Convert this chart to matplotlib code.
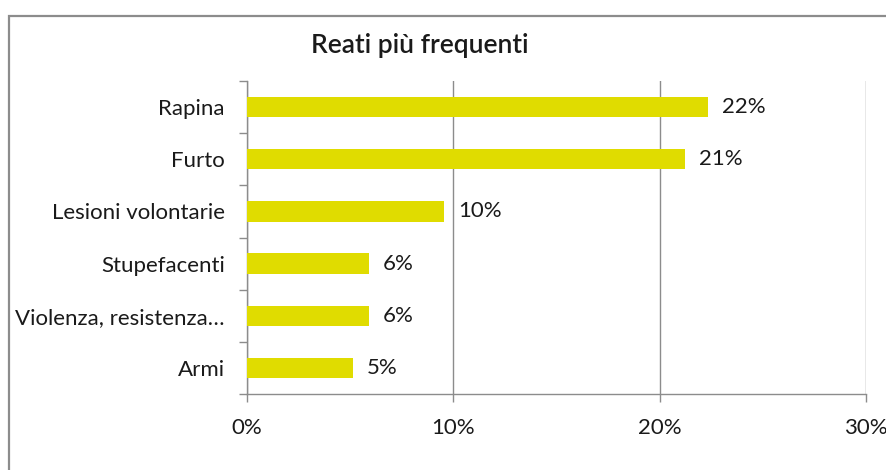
import matplotlib
matplotlib.use("Agg")
import matplotlib.pyplot as plt
from matplotlib.patches import Rectangle
from matplotlib.ticker import FixedLocator, PercentFormatter

categories = ["Rapina", "Furto", "Lesioni volontarie", "Stupefacenti",
              "Violenza, resistenza…", "Armi"]
values = [22.35, 21.25, 9.55, 5.9, 5.9, 5.12]
value_labels = ["22%", "21%", "10%", "6%", "6%", "5%"]
x_ticks = [0, 10, 20, 30]
title = "Reati più frequenti"

plt.rcParams['font.family'] = ['Lato', 'DejaVu Sans']

W, H = 887, 470
fig = plt.figure(figsize=(W / 100, H / 100), dpi=100)
fig.patch.set_facecolor("white")

# outer chart frame
fig.patches.append(Rectangle((9 / W, -0.1), 1.2, 1 - 16 / H + 0.1,
                             transform=fig.transFigure, fill=False,
                             edgecolor="#8c8c8c", linewidth=1.6))

ax = fig.add_axes([247 / W, 1 - 394.3 / H, (866 - 247) / W, (394.3 - 80.7) / H])
n = len(categories)
ypos = list(range(n))[::-1]
ax.barh(ypos, values, height=0.39, color="#E0DC00", zorder=3)

ax.set_xlim(0, 30)
ax.set_ylim(-0.5, n - 0.5)
ax.set_xticks(x_ticks)
ax.xaxis.set_major_formatter(PercentFormatter(decimals=0))
ax.grid(axis="x", color="#8c8c8c", linewidth=1.0, zorder=0)

fs = 16
ax.set_yticks(ypos)
ax.set_yticklabels(categories)
ax.yaxis.set_minor_locator(FixedLocator([i - 0.5 for i in range(n + 1)]))
ax.tick_params(axis="y", which="major", length=0, pad=16, labelsize=fs, labelcolor="#1a1a1a")
ax.tick_params(axis="y", which="minor", length=6, width=1, color="#8c8c8c")
ax.tick_params(axis="x", which="major", length=6, width=1, color="#8c8c8c",
               pad=11, labelsize=fs, labelcolor="#1a1a1a")

for s in ["top", "right"]:
    ax.spines[s].set_visible(False)
for s in ["left", "bottom"]:
    ax.spines[s].set_color("#8c8c8c")
    ax.spines[s].set_linewidth(1.0)

for y, v, lab in zip(ypos, values, value_labels):
    ax.annotate(lab, (v, y), xytext=(10, 0), textcoords="offset points",
                va="center", ha="left", fontsize=fs, color="#1a1a1a")

fig.text(420 / W, 1 - 45 / H, title, ha="center", va="center",
         fontsize=19, fontweight="semibold", color="#1a1a1a")

fig.savefig("out.png", dpi=100)
